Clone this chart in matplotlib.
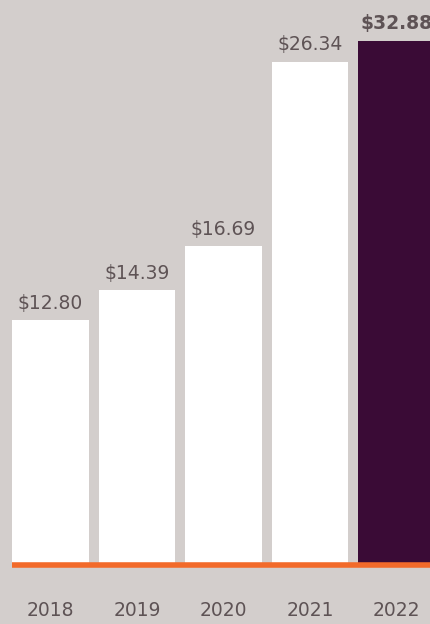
import numpy as np
import matplotlib
matplotlib.use("Agg")
import matplotlib.pyplot as plt

# data
years = ["2018", "2019", "2020", "2021", "2022"]
values = [12.80, 14.39, 16.69, 26.34, 32.88]
highlight = [False, False, False, False, True]

bg = "#d3cecc"
purple = "#3a0b36"
orange = "#f26a2a"
txt = "#5e5355"

plt.rcParams['font.family'] = ['DejaVu Sans']

fig = plt.figure(figsize=(4.31, 6.24), dpi=100, facecolor=bg)
# axes: bottom at bar base (565 px), top where the last bar is cut (41 px)
ax = fig.add_axes([0, 1 - 565/624, 1, (565 - 41)/624])
ax.set_facecolor(bg)

x = np.arange(len(years))
ymax = 27.43
colors = [purple if h else "white" for h in highlight]
ax.bar(x, values, width=0.89, color=colors, zorder=2)
ax.set_xlim(-0.584, 4.399)
ax.set_ylim(0, ymax)

# orange base line from the first bar's left edge to the right
ax.hlines(0, x[0] - 0.445, 4.5, color=orange, lw=4, zorder=3, clip_on=False)

for xi, v, h in zip(x, values, highlight):
    ax.annotate(f"${v:.2f}", (xi, min(v, ymax)), xytext=(0, 8.3),
                textcoords="offset points", ha="center", va="baseline",
                fontsize=13.5, color=txt,
                fontweight="bold" if h else "normal", annotation_clip=False)

ax.set_xticks(x)
ax.set_xticklabels(years, fontsize=13.5, color=txt)
ax.tick_params(axis="x", length=0, pad=26)
ax.set_yticks([])
for s in ax.spines.values():
    s.set_visible(False)

fig.savefig("out.png", dpi=100, facecolor=bg)
